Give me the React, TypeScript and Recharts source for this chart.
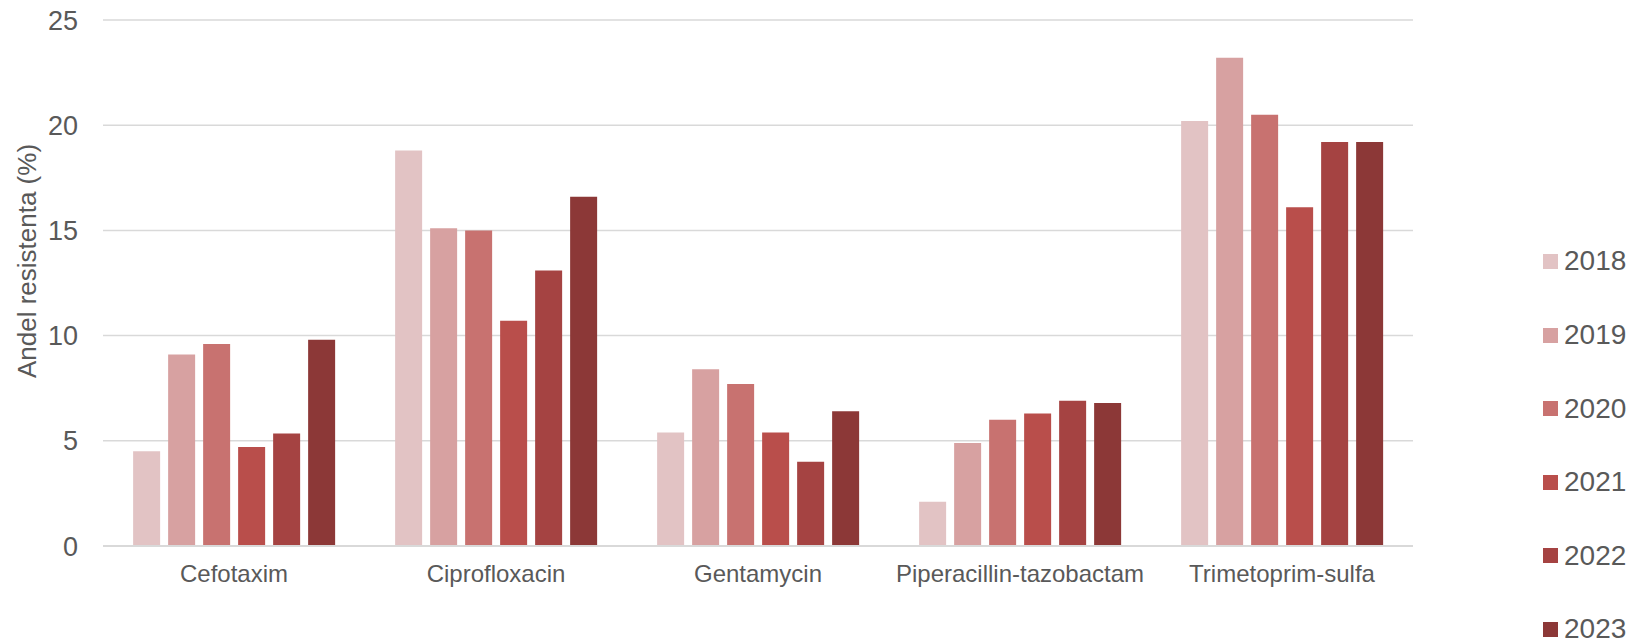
import React from 'react';
import { BarChart, Bar, XAxis, YAxis, CartesianGrid, Legend } from 'recharts';

const categories = ['Cefotaxim', 'Ciprofloxacin', 'Gentamycin', 'Piperacillin-tazobactam', 'Trimetoprim-sulfa'];
const years = ['2018', '2019', '2020', '2021', '2022', '2023'];
const v2018 = [4.5, 18.8, 5.4, 2.1, 20.2];
const v2019 = [9.1, 15.1, 8.4, 4.9, 23.2];
const v2020 = [9.6, 15.0, 7.7, 6.0, 20.5];
const v2021 = [4.7, 10.7, 5.4, 6.3, 16.1];
const v2022 = [5.35, 13.1, 4.0, 6.9, 19.2];
const v2023 = [9.8, 16.6, 6.4, 6.8, 19.2];
const yTicks = [0, 5, 10, 15, 20, 25];
const colors = ['#E2C3C4', '#D7A1A1', '#C87270', '#B94E4B', '#A54342', '#8C3837'];

const series = [v2018, v2019, v2020, v2021, v2022, v2023];
const data = categories.map((c, i) => {
  const row: Record<string, string | number> = { name: c };
  years.forEach((y, k) => {
    row[y] = series[k][i];
  });
  return row;
});

const FONT = '"Liberation Sans", Arial, sans-serif';
const TEXT = '#595959';

const LegendContent = (props: any) => {
  const payload = props.payload || [];
  return (
    <div style={{ fontFamily: FONT }}>
      {payload.map((p: any) => (
        <div key={p.value} style={{ height: 73.6, display: 'flex', alignItems: 'center' }}>
          <div style={{ width: 15, height: 15, background: p.color, marginRight: 6 }} />
          <span style={{ fontSize: 28, color: TEXT, lineHeight: '28px' }}>{p.value}</span>
        </div>
      ))}
    </div>
  );
};

export default function App() {
  return (
    <div style={{ position: 'absolute', left: 0, top: 0, width: 1631, height: 640, background: '#fff' }}>
      <BarChart
        width={1631}
        height={640}
        data={data}
        margin={{ top: 20, right: 218, left: 0, bottom: 0 }}
        barCategoryGap="11.5%"
        barGap={8}
      >
        <CartesianGrid vertical={false} stroke="#D9D9D9" strokeWidth={1.5} />
        <XAxis
          dataKey="name"
          height={94}
          axisLine={{ stroke: '#D9D9D9', strokeWidth: 2 }}
          tickLine={false}
          tickSize={0}
          tickMargin={19}
          interval={0}
          tick={{ fontSize: 24, fill: TEXT, fontFamily: FONT }}
        />
        <YAxis
          width={103}
          domain={[0, 25]}
          ticks={yTicks}
          axisLine={false}
          tickLine={false}
          tickSize={0}
          tickMargin={25}
          tick={{ fontSize: 27, fill: TEXT, fontFamily: FONT }}
          label={{
            value: 'Andel resistenta (%)',
            angle: -90,
            position: 'center',
            dx: -25,
            dy: -22,
            style: { fontSize: 26, fill: TEXT, fontFamily: FONT, textAnchor: 'middle' },
          }}
        />
        <Legend
          layout="vertical"
          align="center"
          verticalAlign="middle"
          content={<LegendContent />}
          wrapperStyle={{ position: 'absolute', left: 1543, top: 224.7, width: 88 }}
        />
        {years.map((y, k) => (
          <Bar key={y} dataKey={y} fill={colors[k]} isAnimationActive={false} />
        ))}
      </BarChart>
    </div>
  );
}
